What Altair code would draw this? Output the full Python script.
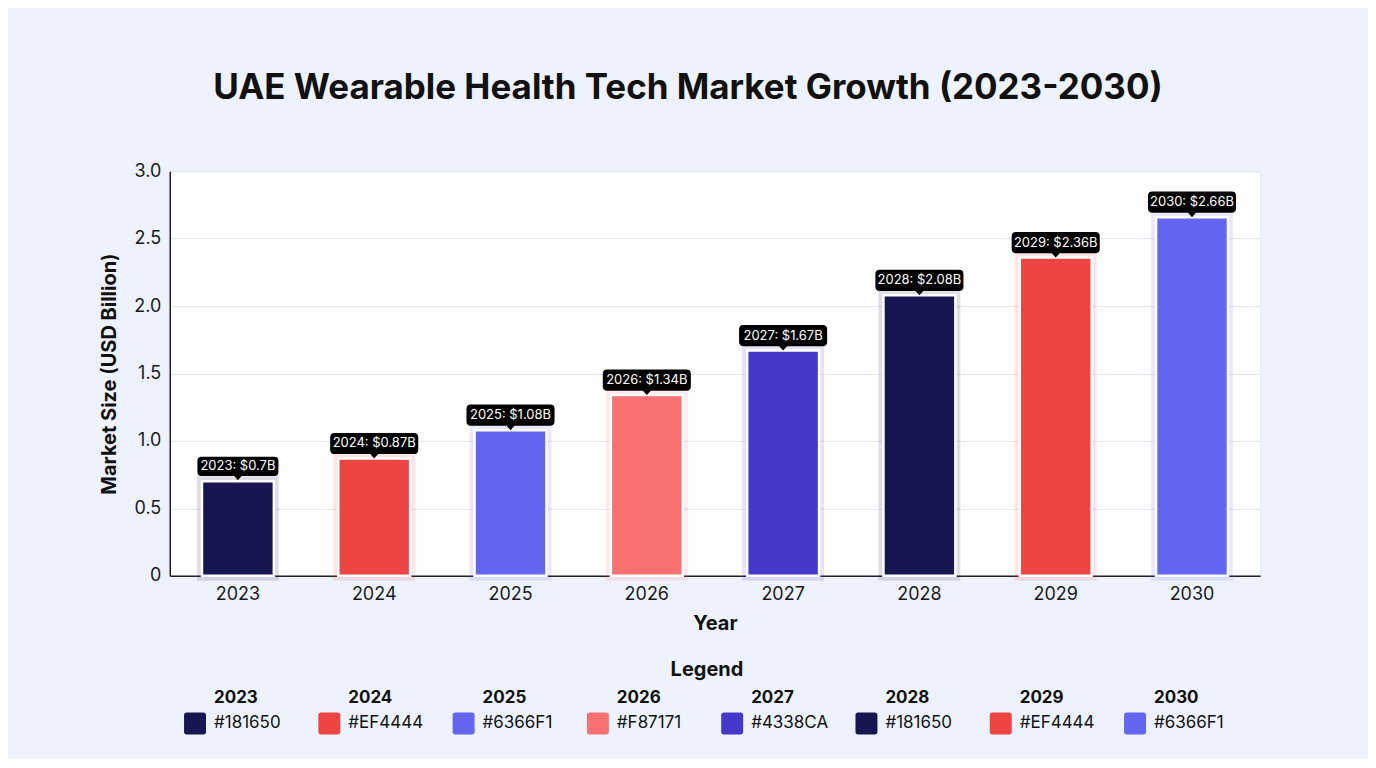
import altair as alt
import pandas as pd

years = ["2023", "2024", "2025", "2026", "2027", "2028", "2029", "2030"]
values = [0.70, 0.87, 1.08, 1.34, 1.67, 2.08, 2.36, 2.66]
colors = ["#181650", "#EF4444", "#6366F1", "#F87171", "#4338CA", "#181650", "#EF4444", "#6366F1"]

df = pd.DataFrame({"Year": years, "Value": values, "Hex": colors})
df["Label"] = [f"{y}: ${v:g}B" for y, v in zip(years, values)]

FONT = "Inter"
W, H = 1092, 405

color_scale = alt.Scale(domain=years, range=colors)
x_enc = alt.X("Year:N", sort=years, scale=alt.Scale(paddingInner=0.47, paddingOuter=0.235),
              axis=alt.Axis(title="Year", labelAngle=0, labelFontSize=18, labelColor="#1a1a1a",
                            labelFont=FONT, labelPadding=10, ticks=False, domainColor="#222222",
                            domainWidth=1.5, titleFont=FONT, titleFontSize=20, titleFontWeight="bold",
                            titleColor="#111111", titlePadding=10, grid=False))
y_enc = alt.Y("Value:Q", scale=alt.Scale(domain=[0, 3]),
              axis=alt.Axis(title="Market Size (USD Billion)", values=[0, 0.5, 1, 1.5, 2, 2.5, 3],
                            labelExpr="datum.value == 0 ? '0' : format(datum.value, '.1f')",
                            labelFontSize=18, labelColor="#1a1a1a", labelFont=FONT, labelPadding=9,
                            ticks=False, domainColor="#222222", domainWidth=1.5,
                            gridColor="#E3E5EA", gridWidth=1, titleFont=FONT, titleFontSize=20,
                            titleFontWeight="bold", titleColor="#111111", titlePadding=14))

base = alt.Chart(df)

glow = base.mark_bar(size=72, strokeWidth=10, strokeOpacity=0.14, fillOpacity=0).encode(
    x=x_enc, y=y_enc, stroke=alt.Color("Year:N", scale=color_scale, legend=None))

bars = base.mark_bar(size=72, stroke="white", strokeWidth=2.5).encode(
    x=alt.X("Year:N", sort=years), y="Value:Q",
    color=alt.Color("Year:N", scale=color_scale, legend=None))

box_path = ("M-0.9,-0.24 L0.9,-0.24 Q1,-0.24 1,-0.14 L1,0.14 Q1,0.24 0.9,0.24 "
            "L0.09,0.24 L0,0.34 L-0.09,0.24 L-0.9,0.24 Q-1,0.24 -1,0.14 L-1,-0.14 "
            "Q-1,-0.24 -0.9,-0.24 Z")

boxes = base.transform_calculate(
    sz="pow(length(datum.Label) * 7.1 + 3, 2)"
).mark_point(shape=box_path, filled=True, color="#000000", opacity=1, yOffset=-15).encode(
    x=alt.X("Year:N", sort=years), y="Value:Q", size=alt.Size("sz:Q", scale=None, legend=None))

labels = base.mark_text(color="white", fontSize=13, font=FONT, baseline="middle",
                        yOffset=-15).encode(
    x=alt.X("Year:N", sort=years), y="Value:Q", text="Label:N")

# Legend (own horizontal point scale)
leg_x = alt.X("Year:N", sort=years, scale=alt.Scale(type="point", padding=0.56), axis=None)

swatch_path = ("M-0.75,-1 L0.75,-1 Q1,-1 1,-0.75 L1,0.75 Q1,1 0.75,1 L-0.75,1 Q-1,1 -1,0.75 "
               "L-1,-0.75 Q-1,-1 -0.75,-1 Z")

leg_title = alt.Chart(pd.DataFrame({"t": ["Legend"]})).mark_text(
    fontSize=20, fontWeight="bold", font=FONT, color="#111111", baseline="middle").encode(
    x=alt.value(W / 2 - 8), y=alt.value(499), text="t:N")

leg_sw = base.mark_point(shape=swatch_path, filled=True, opacity=1, size=484,
                         xOffset=-50).encode(
    x=leg_x, y=alt.value(553), color=alt.Color("Year:N", scale=color_scale, legend=None))

leg_year = base.mark_text(fontSize=17, fontWeight="bold", font=FONT, color="#111111",
                          align="left", baseline="middle", xOffset=-31).encode(
    x=leg_x, y=alt.value(527), text="Year:N")

leg_hex = base.mark_text(fontSize=17, font=FONT, color="#111111",
                         align="left", baseline="middle", xOffset=-31).encode(
    x=leg_x, y=alt.value(553), text="Hex:N")

main = alt.layer(glow, bars, boxes, labels)
legend = alt.layer(leg_sw, leg_year, leg_hex)

chart = alt.layer(main, legend, leg_title).resolve_scale(x="independent").properties(
    width=W, height=H,
    background="#EEF2FC",
    padding={"left": 91, "top": 63, "right": 108, "bottom": 24},
    title=alt.TitleParams("UAE Wearable Health Tech Market Growth (2023-2030)",
                          fontSize=35, font=FONT, fontWeight="bold", color="#111111",
                          anchor="middle", frame="bounds", dx=8, offset=56),
).configure_view(fill="white", stroke="#E6E8EE")

chart.save("out.html", embed_options={"renderer": "svg", "actions": False})
